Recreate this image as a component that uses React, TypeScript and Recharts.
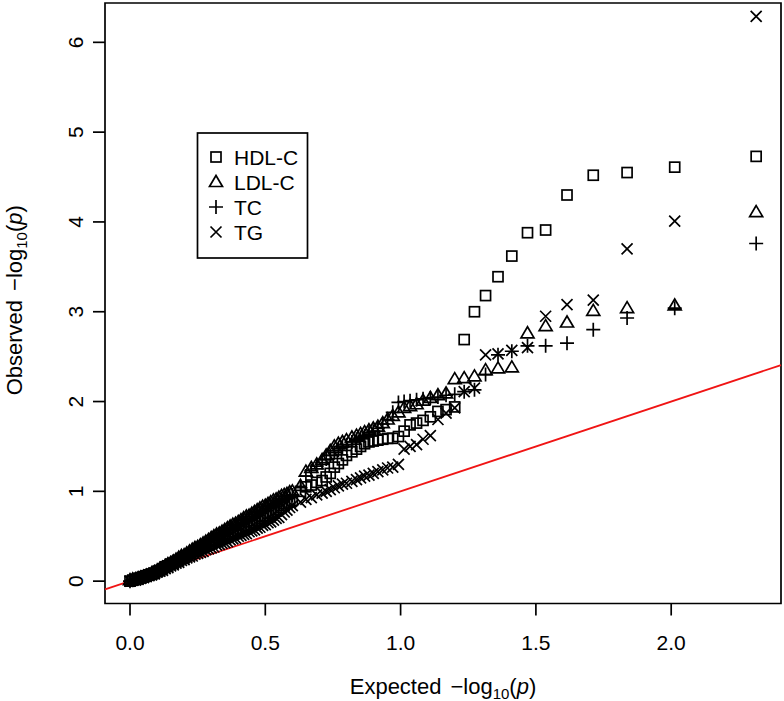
import { ScatterChart, Scatter, XAxis, YAxis, ReferenceLine, ReferenceArea } from 'recharts';

// expected -log10(p), shared by all four traits (sorted, largest first)
const expected = [
  2.314, 2.013, 1.837, 1.712, 1.615, 1.536, 1.469, 1.411, 1.36, 1.314,
  1.273, 1.235, 1.2, 1.168, 1.138, 1.11, 1.083, 1.059, 1.035, 1.013,
  0.992, 0.971, 0.952, 0.934, 0.916, 0.899, 0.883, 0.867, 0.852, 0.837,
  0.82, 0.8, 0.785, 0.77, 0.755, 0.74, 0.725, 0.71, 0.69, 0.67,
  0.65, 0.63, 0.6,
  0.59, 0.58, 0.57, 0.56, 0.55, 0.54, 0.53, 0.52, 0.51, 0.5,
  0.49, 0.48, 0.47, 0.46, 0.45, 0.44, 0.43, 0.42, 0.41, 0.4,
  0.39, 0.38, 0.37, 0.36, 0.35, 0.34, 0.33, 0.32, 0.31, 0.3,
  0.29, 0.28, 0.27, 0.26, 0.25, 0.24, 0.23, 0.22, 0.21, 0.2,
  0.19, 0.18, 0.17, 0.16, 0.15, 0.14, 0.13, 0.12, 0.11, 0.1,
  0.09, 0.08, 0.07, 0.06, 0.05, 0.04, 0.03, 0.02, 0.01, 0.0,
];

const hdlObserved = [
  4.73, 4.61, 4.55, 4.52, 4.3, 3.91, 3.88, 3.62, 3.39, 3.18,
  3.0, 2.69, 1.94, 1.91, 1.89, 1.83, 1.79, 1.76, 1.74, 1.67,
  1.61, 1.59, 1.59, 1.58, 1.57, 1.56, 1.55, 1.53, 1.5, 1.47,
  1.44, 1.4, 1.35, 1.31, 1.27, 1.2, 1.16, 1.12, 1.1, 1.07,
  1.05, 1.0, 0.9,
  0.88, 0.86, 0.84, 0.82, 0.8, 0.78, 0.76, 0.75, 0.73, 0.72,
  0.7, 0.68, 0.67, 0.65, 0.63, 0.62, 0.61, 0.59, 0.58, 0.56,
  0.55, 0.53, 0.52, 0.51, 0.49, 0.48, 0.47, 0.45, 0.44, 0.42,
  0.4, 0.39, 0.37, 0.36, 0.34, 0.33, 0.31, 0.29, 0.28, 0.26,
  0.25, 0.23, 0.22, 0.2, 0.19, 0.17, 0.16, 0.14, 0.12, 0.11,
  0.09, 0.08, 0.07, 0.06, 0.05, 0.04, 0.03, 0.02, 0.01, 0.0,
];

const ldlObserved = [
  4.11, 3.07, 3.04, 3.01, 2.88, 2.84, 2.76, 2.38, 2.37, 2.35,
  2.28, 2.26, 2.25, 2.09, 2.07, 2.04, 2.01, 1.97, 1.95, 1.93,
  1.88, 1.84, 1.8, 1.76, 1.72, 1.7, 1.68, 1.66, 1.64, 1.62,
  1.6, 1.57, 1.55, 1.53, 1.5, 1.45, 1.4, 1.35, 1.3, 1.26,
  1.22, 1.06, 1.0,
  0.99, 0.97, 0.96, 0.95, 0.93, 0.91, 0.9, 0.88, 0.86, 0.84,
  0.83, 0.81, 0.79, 0.77, 0.75, 0.73, 0.72, 0.7, 0.68, 0.66,
  0.64, 0.63, 0.61, 0.59, 0.57, 0.55, 0.53, 0.52, 0.5, 0.48,
  0.46, 0.44, 0.42, 0.4, 0.38, 0.37, 0.35, 0.33, 0.31, 0.29,
  0.28, 0.26, 0.24, 0.22, 0.2, 0.19, 0.17, 0.15, 0.13, 0.11,
  0.1, 0.08, 0.07, 0.06, 0.05, 0.04, 0.03, 0.02, 0.02, 0.01,
];

const tcObserved = [
  3.76, 3.04, 2.93, 2.8, 2.65, 2.62, 2.62, 2.56, 2.52, 2.3,
  2.13, 2.11, 2.08, 2.07, 2.05, 2.04, 2.03, 2.02, 2.01, 2.0,
  1.99, 1.88, 1.8, 1.75, 1.7, 1.67, 1.65, 1.62, 1.6, 1.58,
  1.55, 1.52, 1.49, 1.46, 1.43, 1.4, 1.36, 1.32, 1.28, 1.23,
  1.17, 1.04, 0.96,
  0.95, 0.94, 0.92, 0.91, 0.89, 0.87, 0.86, 0.84, 0.83, 0.81,
  0.79, 0.78, 0.76, 0.74, 0.72, 0.7, 0.69, 0.67, 0.65, 0.63,
  0.62, 0.6, 0.58, 0.57, 0.55, 0.53, 0.51, 0.5, 0.48, 0.46,
  0.44, 0.43, 0.41, 0.39, 0.37, 0.36, 0.34, 0.32, 0.3, 0.28,
  0.27, 0.25, 0.23, 0.22, 0.2, 0.18, 0.16, 0.15, 0.13, 0.11,
  0.1, 0.09, 0.07, 0.06, 0.05, 0.04, 0.03, 0.02, 0.01, 0.0,
];

const tgObserved = [
  6.29, 4.01, 3.7, 3.13, 3.08, 2.95, 2.6, 2.57, 2.53, 2.52,
  2.15, 2.11, 1.93, 1.87, 1.8, 1.62, 1.58, 1.52, 1.5, 1.47,
  1.3, 1.27, 1.26, 1.24, 1.22, 1.2, 1.18, 1.17, 1.15, 1.13,
  1.11, 1.09, 1.08, 1.06, 1.04, 1.02, 1.0, 0.98, 0.96, 0.93,
  0.91, 0.88, 0.84,
  0.82, 0.79, 0.77, 0.74, 0.71, 0.7, 0.68, 0.66, 0.65, 0.63,
  0.62, 0.6, 0.59, 0.57, 0.56, 0.55, 0.53, 0.52, 0.51, 0.5,
  0.48, 0.47, 0.46, 0.44, 0.43, 0.42, 0.41, 0.4, 0.38, 0.37,
  0.36, 0.35, 0.33, 0.32, 0.31, 0.3, 0.28, 0.27, 0.26, 0.24,
  0.23, 0.21, 0.2, 0.18, 0.17, 0.15, 0.14, 0.12, 0.11, 0.1,
  0.08, 0.07, 0.06, 0.05, 0.04, 0.03, 0.02, 0.01, 0.01, 0.0,
];

const xTicks = [0, 0.5, 1, 1.5, 2];
const yTicks = [0, 1, 2, 3, 4, 5, 6];
const traits = ['HDL-C', 'LDL-C', 'TC', 'TG'];

const X_MIN = -0.0924;
const X_MAX = 2.4058;
const Y_MIN = -0.249;
const Y_MAX = 6.438;

const FONT = '"Liberation Sans", Arial, Helvetica, sans-serif';
const SW = 1.7;

const toPoints = (obs: number[]) => obs.map((y, i) => ({ x: expected[i], y }));

const square = (cx: number, cy: number) => (
  <rect x={cx - 5} y={cy - 5} width={10} height={10} fill="none" stroke="#000" strokeWidth={SW} />
);
const triangle = (cx: number, cy: number) => (
  <polygon
    points={`${cx},${cy - 6.5} ${cx - 6.5},${cy + 4.5} ${cx + 6.5},${cy + 4.5}`}
    fill="none"
    stroke="#000"
    strokeWidth={SW}
  />
);
const plus = (cx: number, cy: number) => (
  <path d={`M${cx - 7},${cy}H${cx + 7}M${cx},${cy - 7}V${cy + 7}`} stroke="#000" strokeWidth={SW} fill="none" />
);
const cross = (cx: number, cy: number) => (
  <path
    d={`M${cx - 5.5},${cy - 5.5}L${cx + 5.5},${cy + 5.5}M${cx + 5.5},${cy - 5.5}L${cx - 5.5},${cy + 5.5}`}
    stroke="#000"
    strokeWidth={SW}
    fill="none"
  />
);
const symbols = [square, triangle, plus, cross];

const XTick = (props: any) => {
  const { x, y, payload } = props;
  return (
    <text x={x} y={y + 32} textAnchor="middle" fontSize={21} fontFamily={FONT} fill="#000">
      {Number(payload.value).toFixed(1)}
    </text>
  );
};

const YTick = (props: any) => {
  const { y, payload } = props;
  const bx = 83;
  return (
    <text x={bx} y={y} transform={`rotate(-90, ${bx}, ${y})`} textAnchor="middle" fontSize={21} fontFamily={FONT} fill="#000">
      {payload.value}
    </text>
  );
};

// "<word>  -log10(p)" with a small gap before the minus sign
const LogTitle = ({ word }: { word: string }) => (
  <>
    {word}
    <tspan dx={9}>{'\u2212log'}</tspan>
    <tspan fontSize={15} dy={5}>10</tspan>
    <tspan dy={-5}>(</tspan>
    <tspan fontStyle="italic">p</tspan>
    <tspan>)</tspan>
  </>
);

const XTitle = (props: any) => {
  const vb = props.viewBox;
  return (
    <text x={vb.x + vb.width / 2} y={vb.y + 90} textAnchor="middle" fontSize={22} fontFamily={FONT} fill="#000">
      <LogTitle word="Expected" />
    </text>
  );
};

const YTitle = (props: any) => {
  const vb = props.viewBox;
  const cx = 22;
  const cy = vb.y + vb.height / 2 - 3;
  return (
    <text x={cx} y={cy} transform={`rotate(-90, ${cx}, ${cy})`} textAnchor="middle" fontSize={22} fontFamily={FONT} fill="#000">
      <LogTitle word="Observed" />
    </text>
  );
};

const LegendBox = () => (
  <svg width={113} height={128} style={{ position: 'absolute', left: 196, top: 132 }}>
    <rect x={1.5} y={1} width={110} height={125} fill="#fff" stroke="#000" strokeWidth={SW} />
    {traits.map((t, i) => {
      const cy = 25 + i * 25;
      return (
        <g key={t}>
          {symbols[i](20, cy)}
          <text x={38} y={cy + 8} fontSize={21} fontFamily={FONT} fill="#000">
            {t}
          </text>
        </g>
      );
    })}
  </svg>
);

export default function App() {
  const series = [hdlObserved, ldlObserved, tcObserved, tgObserved];
  return (
    <div style={{ position: 'absolute', left: 0, top: 0, width: 784, height: 701, background: '#fff' }}>
      <ScatterChart width={784} height={701} margin={{ top: 3, right: 3, bottom: 0, left: 0 }}>
        <XAxis
          type="number"
          dataKey="x"
          domain={[X_MIN, X_MAX]}
          ticks={xTicks}
          allowDataOverflow
          axisLine={false}
          tickSize={12}
          tickLine={{ stroke: '#000', strokeWidth: SW }}
          tick={<XTick />}
          height={97.5}
          label={{ content: <XTitle /> }}
        />
        <YAxis
          type="number"
          dataKey="y"
          domain={[Y_MIN, Y_MAX]}
          ticks={yTicks}
          allowDataOverflow
          axisLine={false}
          tickSize={12}
          tickLine={{ stroke: '#000', strokeWidth: SW }}
          tick={<YTick />}
          width={105}
          label={{ content: <YTitle /> }}
        />
        <ReferenceArea x1={X_MIN} x2={X_MAX} y1={Y_MIN} y2={Y_MAX} fill="none" stroke="#000" strokeWidth={SW} />
        {series.map((obs, i) => (
          <Scatter
            key={traits[i]}
            name={traits[i]}
            data={toPoints(obs)}
            isAnimationActive={false}
            shape={(p: any) => symbols[i](p.cx, p.cy)}
          />
        ))}
        <ReferenceLine
          segment={[
            { x: X_MIN, y: X_MIN },
            { x: X_MAX, y: X_MAX },
          ]}
          stroke="#f01414"
          strokeWidth={1.8}
        />
      </ScatterChart>
      <LegendBox />
    </div>
  );
}
